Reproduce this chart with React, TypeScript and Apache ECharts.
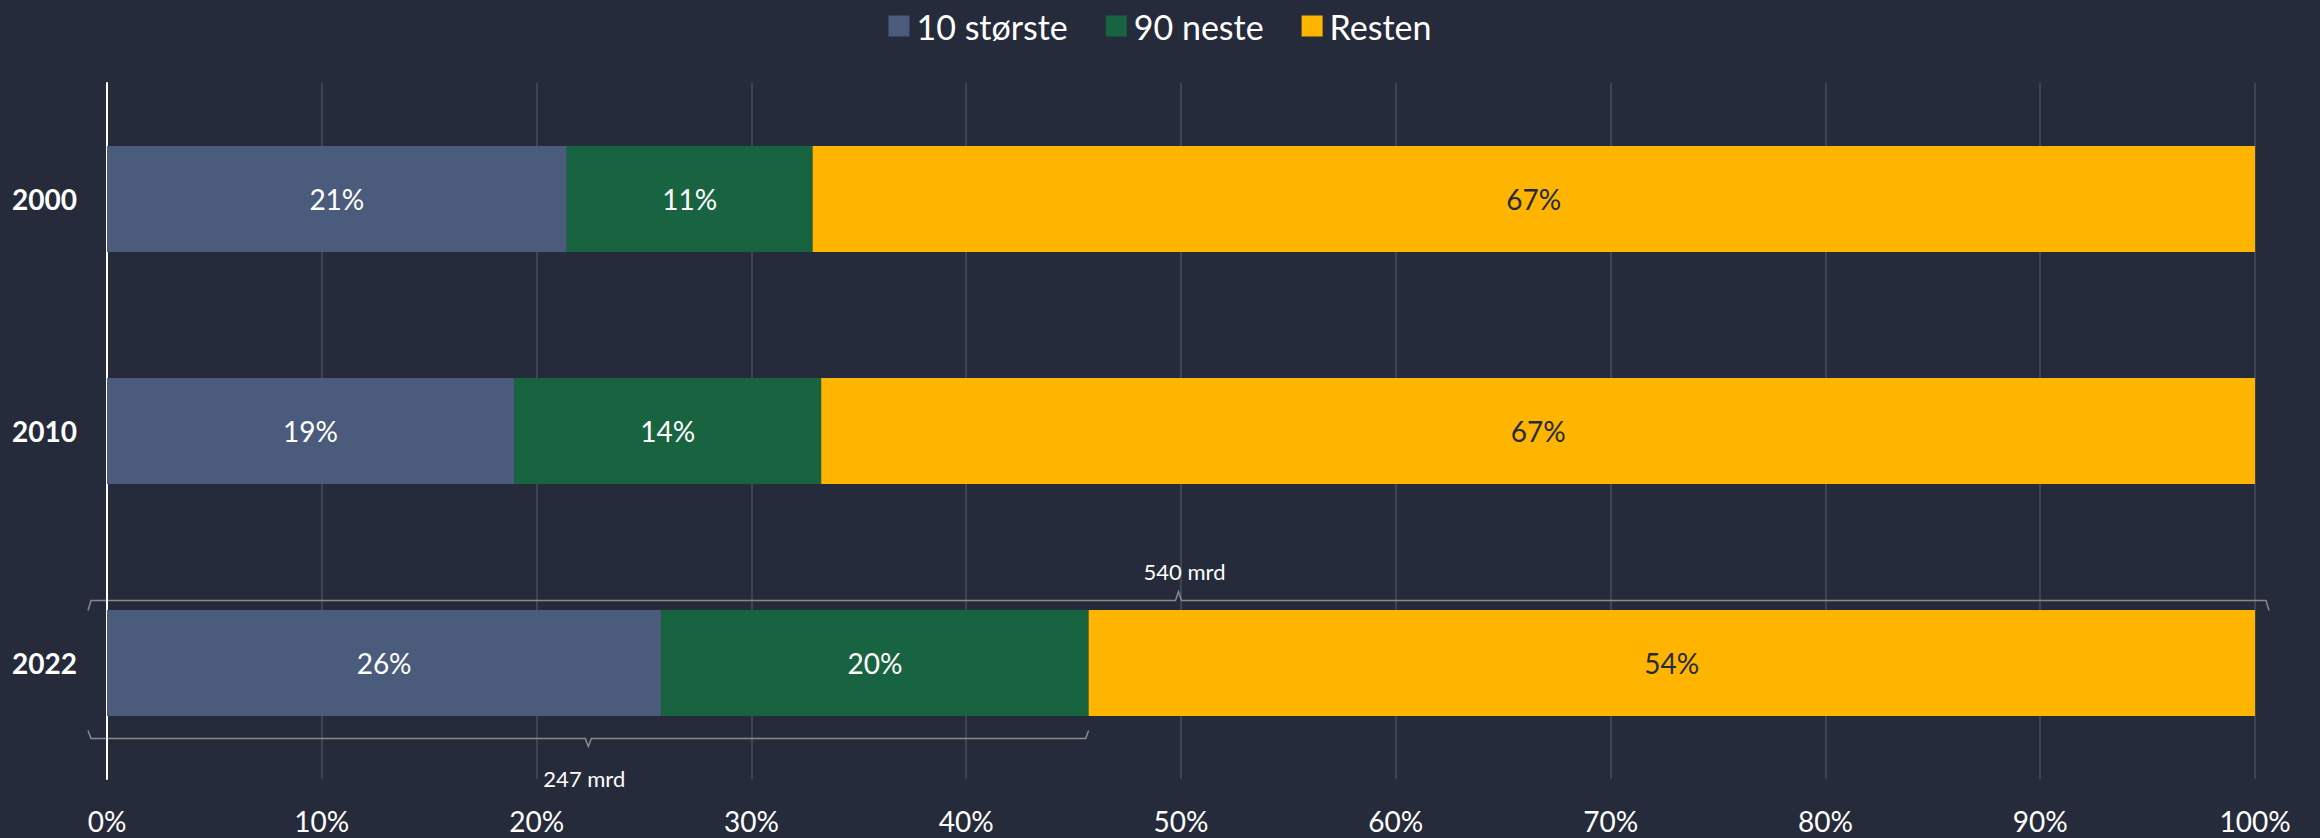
import React, { useEffect, useRef } from "react";
import * as echarts from "echarts";

const categories = ["2000", "2010", "2022"];
const seriesNames = ["10 største", "90 neste", "Resten"];
const top10 = [21.4, 18.95, 25.8];
const next90 = [11.45, 14.3, 19.9];
const rest = [67.15, 66.75, 54.3];
const xTicks = [0, 10, 20, 30, 40, 50, 60, 70, 80, 90, 100];
const bracketTotalLabel = "540 mrd";
const bracketTop100Label = "247 mrd";

const BG = "#252b3b";
const COLORS = ["#4b5b7c", "#186441", "#ffb400"];
const FONT = "Lato";

export default function App() {
  const ref = useRef<HTMLDivElement>(null);
  useEffect(() => {
    document.body.style.margin = "0";
    const chart = echarts.init(ref.current!, null, { renderer: "svg" });
    const values = [top10, next90, rest];
    chart.setOption({
      animation: false,
      backgroundColor: BG,
      textStyle: { fontFamily: FONT },
      legend: {
        top: 4,
        left: "center",
        icon: "rect",
        itemWidth: 21,
        itemHeight: 21,
        itemGap: 38,
        textStyle: { color: "#ffffff", fontSize: 34, fontFamily: FONT, padding: [0, 0, 0, 2] },
        data: seriesNames,
      },
      grid: { left: 107, right: 65, top: 83, bottom: 59, containLabel: false },
      xAxis: {
        type: "value",
        min: xTicks[0],
        max: xTicks[xTicks.length - 1],
        interval: 10,
        axisLine: { show: false },
        axisTick: { show: false },
        axisLabel: { color: "#ffffff", fontSize: 28, margin: 28, formatter: "{value}%", fontFamily: FONT },
        splitLine: { show: true, lineStyle: { color: "#474e5e", width: 1.5 } },
      },
      yAxis: {
        type: "category",
        data: categories,
        inverse: true,
        axisLine: { show: true, lineStyle: { color: "#ffffff", width: 2 } },
        axisTick: { show: false },
        axisLabel: { color: "#ffffff", fontSize: 28, fontWeight: "bold", margin: 30, fontFamily: FONT },
      },
      series: seriesNames.map((name, i) => ({
        name,
        type: "bar",
        stack: "total",
        barWidth: 106,
        itemStyle: { color: COLORS[i] },
        label: {
          show: true,
          position: "inside",
          color: i === 2 ? BG : "#ffffff",
          fontSize: 28,
          fontFamily: FONT,
          formatter: (p: any) => Math.round(p.value) + "%",
        },
        data: values[i],
      })),
    });

    const idx = 2;
    const yC = chart.convertToPixel({ yAxisIndex: 0 }, categories[idx]) as number;
    const x0 = (chart.convertToPixel({ xAxisIndex: 0 }, 0) as number) - 19;
    const x100 = (chart.convertToPixel({ xAxisIndex: 0 }, 100) as number) + 14;
    const xG = chart.convertToPixel({ xAxisIndex: 0 }, top10[idx] + next90[idx]) as number;
    const bc = "#8a8a8a";
    const yT = yC - 62.5;
    const midT = (x0 + x100) / 2;
    const yB = yC + 75.5;
    const midB = (x0 + xG) / 2;
    chart.setOption({
      graphic: [
        {
          type: "polyline",
          shape: {
            points: [
              [x0, yT + 10], [x0 + 3, yT], [midT - 3, yT], [midT, yT - 9], [midT + 3, yT], [x100 - 3, yT], [x100, yT + 10],
            ],
          },
          style: { stroke: bc, lineWidth: 1.5, fill: null },
          silent: true,
        },
        {
          type: "text",
          x: midT + 6,
          y: yC - 91.5,
          style: { text: bracketTotalLabel, fill: "#ffffff", fontSize: 22, fontFamily: FONT, align: "center", verticalAlign: "middle" },
        },
        {
          type: "polyline",
          shape: {
            points: [
              [x0, yB - 8], [x0 + 3, yB], [midB - 3, yB], [midB, yB + 8], [midB + 3, yB], [xG - 3, yB], [xG, yB - 8],
            ],
          },
          style: { stroke: bc, lineWidth: 1.5, fill: null },
          silent: true,
        },
        {
          type: "text",
          x: midB - 4,
          y: yC + 115.5,
          style: { text: bracketTop100Label, fill: "#ffffff", fontSize: 22, fontFamily: FONT, align: "center", verticalAlign: "middle" },
        },
      ],
    });
    return () => chart.dispose();
  }, []);
  return <div ref={ref} style={{ width: 2320, height: 838 }} />;
}
